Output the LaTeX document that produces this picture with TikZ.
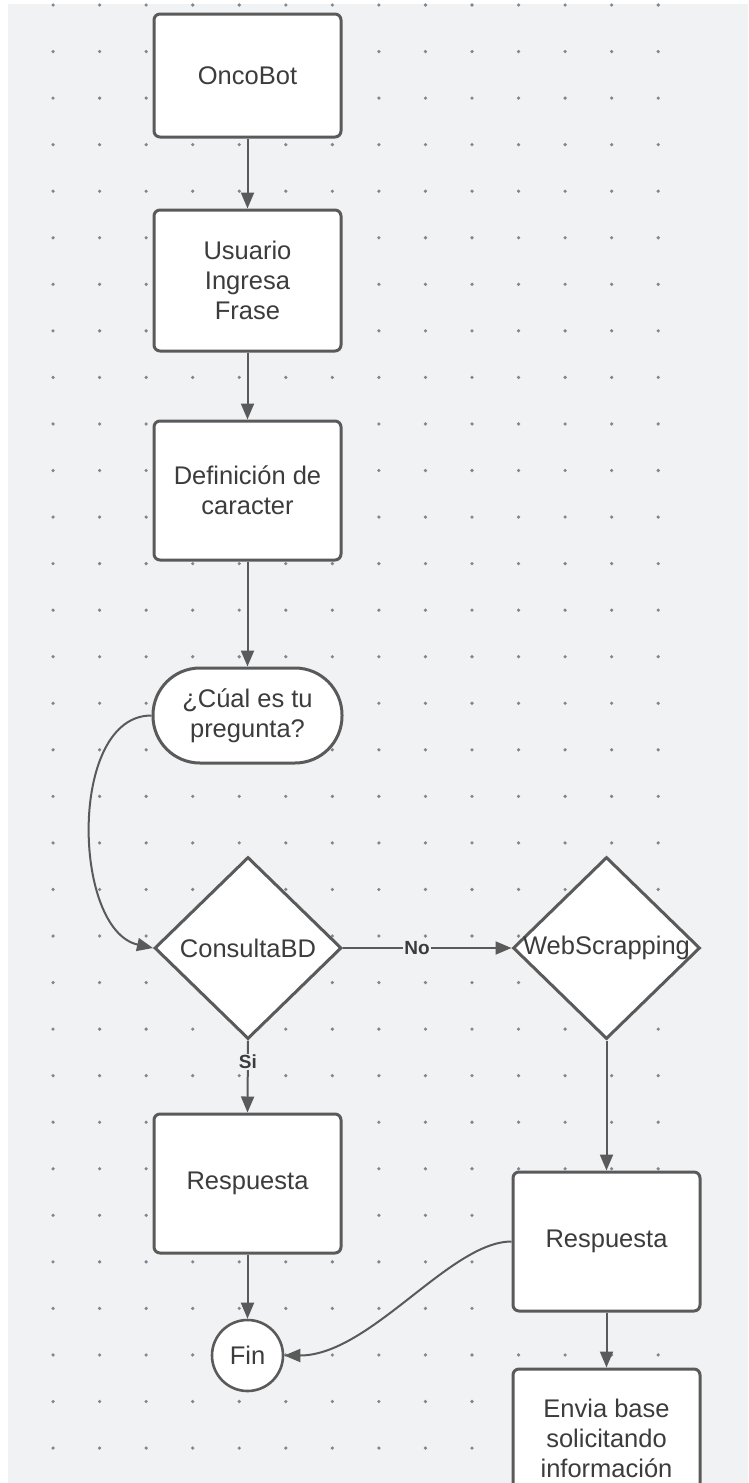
\documentclass[tikz,border=0pt]{standalone}
\usepackage{fontspec}
\setmainfont{Liberation Sans}
\usetikzlibrary{arrows.meta,shapes.geometric}
\definecolor{canvas}{HTML}{F1F2F4}
\definecolor{griddot}{HTML}{80868F}
\definecolor{ink}{HTML}{5A5A5A}
\definecolor{txt}{HTML}{3C3C3C}
\tikzset{
  stepbox/.style={draw=ink, line width=3pt, fill=white, rounded corners=6pt,
    minimum width=187pt, text=txt, align=center, inner sep=0pt},
  pill/.style={stepbox, rounded corners=47pt, minimum height=95pt, minimum width=189pt},
  decision/.style={diamond, draw=ink, line width=3pt, fill=white, inner sep=0pt,
    minimum width=187pt, minimum height=182pt, label={[text=txt]center:#1}},
  endpoint/.style={circle, draw=ink, line width=2.6pt, fill=white, minimum size=71pt,
    inner sep=0pt, text=txt},
  flow/.style={draw=ink, line width=2pt, -{Triangle[length=16pt,width=13pt]}},
  branch/.style={fill=canvas, text=txt, inner sep=1pt,
    font=\bfseries\fontsize{19}{21}\selectfont},
}
\begin{document}
\begin{tikzpicture}[x=1pt, y=-1pt, font=\fontsize{25.5}{30}\selectfont]
\useasboundingbox (0,0) rectangle (748,1483);
\clip (0,0) rectangle (748,1483);

% dotted canvas
\fill[canvas] (8,4) rectangle (748,1483);
\foreach \i in {1,...,14}
  \foreach \j in {0,...,31}
    \fill[griddot] ({6.5+46.55*\i},{5+46.55*\j}) circle (1.8pt);

% main column
\node[stepbox, minimum height=123pt] (onco) at (247.5,75.5) {OncoBot};
\node[stepbox, minimum height=141pt] (user) at (247.5,280.5) {Usuario\\Ingresa\\Frase};
\node[stepbox, minimum height=139pt] (def) at (247.5,490.5) {Definición de\\caracter};
\node[pill] (ask) at (247.5,715.5) {¿Cúal es tu\\pregunta?};
\node[decision=ConsultaBD] (bd) at (248,948) {};
\node[stepbox, minimum height=139pt] (resp1) at (247.5,1183.5) {Respuesta};
\node[endpoint] (fin) at (247.5,1355.5) {Fin};

% right column
\node[decision=WebScrapping] (web) at (606.5,948) {};
\node[stepbox, minimum height=139pt] (resp2) at (606.5,1241.5) {Respuesta};
\node[stepbox, minimum height=139pt] (envia) at (606.5,1438.5) {Envia base\\solicitando\\información};

% connectors
\draw[flow] (onco) -- (user);
\draw[flow] (user) -- (def);
\draw[flow] (def) -- (ask);
\draw[flow] (ask.west) .. controls (68,715) and (72,930) .. (bd.west);
\draw[flow] (bd.east) -- node[branch, pos=0.44] {No} (web.west);
\draw[flow] (bd.south) -- node[branch, pos=0.3] {Si} (resp1.north);
\draw[flow] (resp1) -- (fin);
\draw[flow] (web.south) -- (resp2.north);
\draw[flow] (resp2) -- (envia);
\draw[flow] (resp2.west) .. controls (450,1241.5) and (370,1355.5) .. (fin.east);
\end{tikzpicture}
\end{document}
